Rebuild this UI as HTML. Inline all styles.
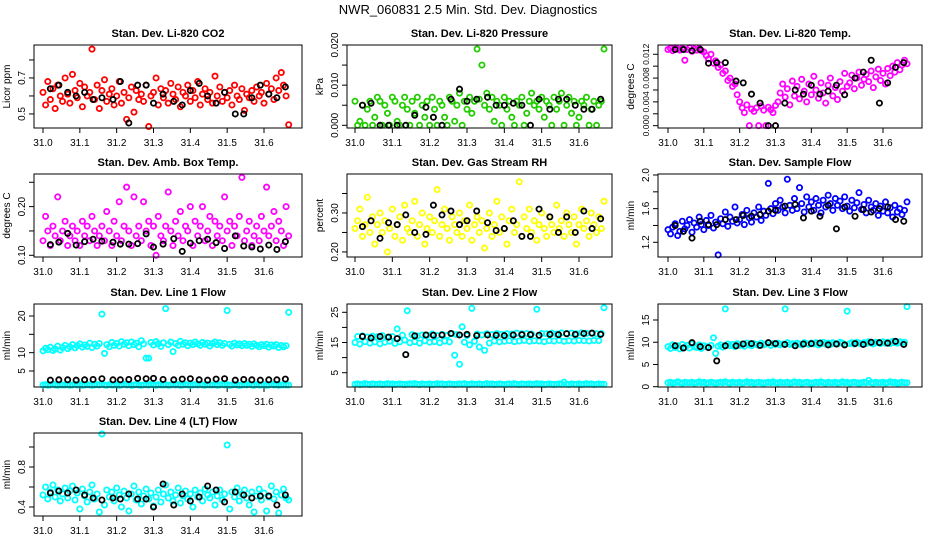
<!DOCTYPE html>
<html><head><meta charset="utf-8"><title>NWR_060831 Diagnostics</title>
<style>
html,body{margin:0;padding:0;background:#fff;}
svg{display:block;font-family:"Liberation Sans",sans-serif;}
</style></head>
<body>
<svg id="chart" width="936" height="540" viewBox="0 0 936 540">
<text x="468" y="14" text-anchor="middle" font-size="13">NWR_060831  2.5 Min. Std. Dev. Diagnostics</text>
</svg>
<script>
// shared time axis (day of month) for colored series
const times = [31.000,31.007,31.013,31.020,31.027,31.033,31.040,31.047,31.053,31.060,31.067,31.073,31.080,31.087,31.093,31.100,31.107,31.113,31.120,31.127,31.133,31.140,31.147,31.153,31.160,31.167,31.173,31.180,31.187,31.193,31.200,31.207,31.213,31.220,31.227,31.233,31.240,31.247,31.253,31.260,31.267,31.273,31.280,31.287,31.293,31.300,31.307,31.313,31.320,31.327,31.333,31.340,31.347,31.353,31.360,31.367,31.373,31.380,31.387,31.393,31.400,31.407,31.413,31.420,31.427,31.433,31.440,31.447,31.453,31.460,31.467,31.473,31.480,31.487,31.493,31.500,31.507,31.513,31.520,31.527,31.533,31.540,31.547,31.553,31.560,31.567,31.573,31.580,31.587,31.593,31.600,31.607,31.613,31.620,31.627,31.633,31.640,31.647,31.653,31.660,31.667];
const blackTimes = [31.02,31.043,31.067,31.09,31.113,31.136,31.16,31.19,31.21,31.233,31.257,31.28,31.30,31.326,31.355,31.378,31.40,31.424,31.447,31.47,31.493,31.522,31.545,31.567,31.59,31.613,31.635,31.658];
const xTicks = [31.0,31.1,31.2,31.3,31.4,31.5,31.6];
const xTickLabels = ["31.0","31.1","31.2","31.3","31.4","31.5","31.6"];

const co2 = [0.62,0.55,0.68,0.58,0.64,0.53,0.66,0.60,0.57,0.70,0.61,0.56,0.72,0.63,0.59,0.67,0.54,0.65,0.60,0.62,0.86,0.58,0.66,0.53,0.63,0.69,0.57,0.61,0.64,0.55,0.60,0.68,0.56,0.62,0.47,0.59,0.65,0.51,0.63,0.58,0.61,0.57,0.66,0.43,0.60,0.62,0.70,0.55,0.64,0.59,0.63,0.56,0.67,0.61,0.58,0.65,0.54,0.62,0.60,0.66,0.57,0.63,0.59,0.68,0.55,0.61,0.64,0.58,0.62,0.56,0.71,0.60,0.65,0.57,0.62,0.59,0.63,0.55,0.66,0.60,0.58,0.64,0.52,0.61,0.59,0.63,0.57,0.65,0.60,0.62,0.56,0.67,0.61,0.64,0.58,0.70,0.63,0.73,0.66,0.60,0.44];
const co2Black = [0.64,0.66,0.62,0.60,0.62,0.58,0.59,0.58,0.68,0.45,0.66,0.66,0.56,0.61,0.57,0.55,0.63,0.67,0.60,0.56,0.62,0.50,0.50,0.59,0.66,0.61,0.59,0.65];

const press = [0.006,0.0,0.001,0.005,0.0,0.004,0.006,0.0,0.002,0.007,0.006,0.0,0.005,0.003,0.0,0.007,0.006,0.001,0.0,0.005,0.007,0.004,0.0,0.006,0.003,0.007,0.0,0.005,0.002,0.006,0.0,0.007,0.004,0.0,0.006,0.005,0.002,0.0,0.007,0.006,0.001,0.005,0.008,0.0,0.006,0.004,0.007,0.003,0.006,0.019,0.0065,0.015,0.005,0.008,0.004,0.007,0.001,0.006,0.005,0.0,0.007,0.004,0.006,0.002,0.0,0.006,0.005,0.007,0.0,0.003,0.006,0.008,0.005,0.006,0.004,0.007,0.002,0.006,0.005,0.0,0.007,0.004,0.006,0.008,0.0,0.005,0.007,0.003,0.006,0.0,0.002,0.006,0.005,0.007,0.0,0.004,0.006,0.0,0.005,0.006,0.019];
const pressBlack = [0.005,0.0055,0.0,0.0,0.0,0.0,0.0025,0.0045,0.002,0.0,0.0065,0.009,0.006,0.0065,0.007,0.005,0.005,0.0055,0.005,0.0,0.0065,0.004,0.0065,0.0065,0.005,0.004,0.004,0.0065];

const temp = [0.0128,0.0130,0.0126,0.0131,0.0129,0.0127,0.0130,0.0110,0.0128,0.0131,0.0125,0.0129,0.0127,0.0130,0.0126,0.0124,0.0118,0.0112,0.0120,0.0105,0.0109,0.0098,0.0102,0.0088,0.0092,0.0076,0.0080,0.0066,0.0070,0.0052,0.0040,0.0030,0.0022,0.0035,0.0,0.0028,0.0024,0.0030,0.0,0.0033,0.0026,0.0,0.0031,0.0027,0.0022,0.0034,0.0040,0.0055,0.0070,0.0048,0.0062,0.0035,0.0075,0.0050,0.0066,0.0045,0.0078,0.0058,0.0040,0.0070,0.0052,0.0083,0.0060,0.0046,0.0072,0.0055,0.0038,0.0068,0.0080,0.0050,0.0064,0.0044,0.0074,0.0058,0.0088,0.0066,0.0072,0.0085,0.0062,0.0080,0.0090,0.0068,0.0078,0.0086,0.0074,0.0092,0.0064,0.0082,0.0095,0.0076,0.0088,0.0070,0.0096,0.0084,0.0100,0.0090,0.0106,0.0094,0.0102,0.0110,0.0104];
const tempBlack = [0.0128,0.0128,0.0126,0.0128,0.0105,0.0106,0.0106,0.0075,0.0072,0.0053,0.0038,0.0,0.0,0.0038,0.0060,0.0053,0.0068,0.0053,0.0058,0.0068,0.0052,0.0080,0.0090,0.0110,0.0038,0.0072,0.0098,0.0106];

const amb = [0.13,0.18,0.15,0.12,0.16,0.14,0.22,0.13,0.15,0.17,0.12,0.14,0.16,0.13,0.15,0.12,0.17,0.14,0.16,0.13,0.18,0.15,0.12,0.14,0.16,0.13,0.19,0.15,0.12,0.17,0.14,0.21,0.13,0.16,0.24,0.15,0.12,0.22,0.14,0.16,0.13,0.21,0.15,0.17,0.12,0.16,0.10,0.18,0.14,0.13,0.16,0.23,0.15,0.12,0.17,0.14,0.19,0.13,0.16,0.15,0.20,0.12,0.17,0.14,0.16,0.20,0.13,0.15,0.18,0.12,0.17,0.14,0.16,0.13,0.22,0.15,0.17,0.12,0.16,0.14,0.18,0.26,0.13,0.15,0.17,0.12,0.14,0.16,0.13,0.18,0.15,0.24,0.14,0.16,0.19,0.13,0.17,0.15,0.12,0.20,0.14];
const ambBlack = [0.122,0.127,0.145,0.121,0.128,0.133,0.129,0.127,0.123,0.123,0.124,0.144,0.117,0.123,0.134,0.108,0.125,0.130,0.133,0.126,0.114,0.140,0.119,0.117,0.113,0.121,0.112,0.128];

const rh = [0.26,0.28,0.31,0.24,0.27,0.34,0.25,0.29,0.22,0.27,0.30,0.25,0.28,0.20,0.26,0.31,0.24,0.27,0.29,0.23,0.32,0.26,0.25,0.28,0.33,0.24,0.27,0.30,0.22,0.26,0.29,0.25,0.28,0.36,0.24,0.27,0.31,0.26,0.23,0.29,0.27,0.25,0.30,0.24,0.28,0.26,0.32,0.23,0.27,0.29,0.25,0.28,0.21,0.26,0.30,0.24,0.27,0.33,0.25,0.29,0.26,0.22,0.28,0.31,0.25,0.27,0.38,0.24,0.29,0.26,0.31,0.25,0.28,0.23,0.27,0.30,0.26,0.24,0.29,0.27,0.25,0.32,0.26,0.28,0.24,0.30,0.27,0.25,0.29,0.22,0.27,0.31,0.26,0.28,0.24,0.30,0.27,0.25,0.29,0.26,0.33];
const rhBlack = [0.265,0.28,0.235,0.275,0.27,0.295,0.25,0.245,0.32,0.295,0.305,0.27,0.28,0.305,0.275,0.255,0.26,0.28,0.24,0.24,0.31,0.29,0.25,0.29,0.25,0.305,0.26,0.285];

const flow = [1.35,1.30,1.38,1.42,1.28,1.33,1.45,1.36,1.40,1.47,1.32,1.43,1.38,1.50,1.41,1.35,1.46,1.40,1.52,1.37,1.44,1.05,1.48,1.42,1.56,1.39,1.50,1.45,1.62,1.43,1.47,1.53,1.41,1.58,1.49,1.44,1.55,1.50,1.62,1.46,1.57,1.52,1.90,1.60,1.54,1.66,1.58,1.70,1.62,1.55,1.95,1.64,1.58,1.72,1.60,1.85,1.66,1.56,1.74,1.62,1.68,1.58,1.72,1.64,1.55,1.70,1.62,1.76,1.66,1.58,1.72,1.64,1.69,1.60,1.74,1.63,1.57,1.70,1.61,1.67,1.79,1.59,1.65,1.55,1.70,1.62,1.58,1.66,1.52,1.63,1.57,1.68,1.55,1.61,1.50,1.64,1.56,1.60,1.53,1.58,1.68];
const flowBlack = [1.40,1.33,1.25,1.45,1.41,1.41,1.47,1.47,1.52,1.51,1.53,1.57,1.58,1.63,1.65,1.49,1.57,1.51,1.64,1.36,1.62,1.51,1.59,1.56,1.60,1.62,1.47,1.45];

const line1 = [10.5,11.2,10.8,11.5,10.6,11.0,11.8,10.7,11.4,12.0,11.1,11.6,12.2,11.3,11.9,12.4,11.5,12.1,11.7,12.6,11.4,12.3,11.8,12.5,20.5,9.8,12.2,11.6,12.8,12.0,12.5,11.8,13.0,12.3,12.7,11.9,12.9,12.2,12.6,11.6,13.3,12.4,8.5,8.5,12.8,12.1,13.0,12.4,11.7,12.7,22.0,12.2,12.9,10.3,12.5,12.0,13.1,12.3,12.7,11.9,12.6,12.2,12.9,12.4,12.0,12.8,12.3,12.6,11.8,12.5,12.9,12.2,12.7,12.0,12.5,21.5,12.3,11.8,12.6,12.1,12.4,11.9,12.5,12.0,12.3,11.7,12.4,12.0,11.6,12.2,11.9,12.3,11.5,12.1,11.8,12.2,11.4,12.0,11.6,11.9,21.0];
const line1Low = [1.2,1.3,1.1,1.2,1.4,1.2,1.1,1.3,1.2,1.2,1.3,1.1,1.2,1.4,1.2,1.3,1.1,1.2,1.3,1.2,1.1,1.2,1.3,1.2,1.4,1.2,1.1,1.3,1.2,1.2,1.3,1.1,1.2,1.4,1.2,1.3,1.1,1.2,1.3,1.2,1.1,1.2,1.3,1.2,1.4,1.2,1.1,1.3,1.2,1.2,1.3,1.1,1.2,1.4,1.2,1.3,1.1,1.2,1.3,1.2,1.1,1.2,1.3,1.2,1.4,1.2,1.1,1.3,1.2,1.2,1.3,1.1,1.2,1.4,1.2,1.3,1.1,1.2,1.3,1.2,1.1,1.2,1.3,1.2,1.4,1.2,1.1,1.3,1.2,1.2,1.3,1.1,1.2,1.4,1.2,1.3,1.1,1.2,1.3,1.2,1.2];
const line1Black = [2.5,2.6,2.6,2.5,2.6,2.7,2.9,2.6,2.6,2.7,3.0,2.9,3.0,2.7,2.6,2.8,2.9,2.6,2.5,2.8,2.9,2.5,2.7,2.6,2.5,2.6,2.6,2.8];

const line2 = [15,17,14.5,17.2,15.3,16.8,14.8,17.1,15.2,16.9,14.6,17.3,15.1,16.7,15.4,17,14.7,19.5,15.2,17.4,15.8,25.5,14.9,17.6,15.3,17.2,14.8,17.5,15.6,17.4,15.1,17.8,15.3,17.3,14.9,17.7,15.5,17.4,15.2,17.9,10.8,17.6,7.8,20.2,15.1,17.3,14.2,26.3,15.4,17.8,13.5,17.5,12.4,17.9,14.8,17.6,15.5,18.0,15.2,17.7,15.4,17.9,15.6,17.8,15.3,18.1,15.5,17.9,15.7,18.0,15.4,17.8,15.6,26.0,15.5,18.0,15.3,17.9,15.6,18.1,15.5,17.8,15.7,18.2,15.4,18.0,15.6,18.1,15.5,17.9,15.7,18.2,15.6,18.0,15.5,18.1,15.7,17.9,15.6,18.0,26.5];
const line2Low = [1.2,1.3,1.1,1.2,1.4,1.2,1.1,1.3,1.2,1.2,1.3,1.1,1.2,1.4,1.2,1.3,1.1,1.2,1.3,1.2,1.1,1.2,1.3,1.2,1.4,1.2,1.1,1.3,1.2,1.2,1.3,1.1,1.2,1.4,1.2,1.3,1.1,1.2,1.3,1.2,1.1,1.2,1.3,1.2,1.4,1.2,1.1,1.3,1.2,1.2,1.3,1.1,1.2,1.4,1.2,1.3,1.1,1.2,1.3,1.2,1.1,1.2,1.3,1.2,1.4,1.2,1.1,1.3,1.2,1.2,1.3,1.1,1.2,1.4,1.2,1.3,1.1,1.2,1.3,1.2,1.1,1.2,1.3,1.2,1.9,1.2,1.1,1.3,1.2,1.2,1.3,1.1,1.2,1.4,1.2,1.3,1.1,1.2,1.3,1.2,1.2];
const line2Black = [17,16.5,17,16.8,16.3,11,17.2,17.5,17.4,17.5,18,17.5,17.7,17.3,17.5,17.4,17.3,17.5,17.6,17.6,17.4,17.7,17.6,17.9,17.7,18,18.1,17.7];

const line3 = [9.0,8.6,9.4,8.8,9.2,8.5,9.5,8.9,9.3,8.7,9.6,9.0,8.8,9.4,8.6,9.2,9.0,8.8,9.3,11.0,7.5,9.1,9.4,8.9,17.5,9.6,9.2,9.5,9.0,9.7,9.3,9.6,9.1,9.8,9.4,9.2,9.7,9.5,9.3,9.8,9.4,9.6,9.9,9.3,9.7,9.5,9.8,9.4,9.6,17.5,9.9,9.5,9.7,9.3,9.8,9.6,9.4,9.9,9.7,9.5,9.8,9.6,9.9,9.4,9.7,10.0,9.6,9.8,9.5,9.9,9.7,9.6,10.0,9.8,9.5,17.0,9.7,9.9,9.6,10.0,9.8,9.6,9.9,9.7,10.1,9.8,9.6,10.0,9.9,9.7,10.1,9.8,10.0,9.7,10.2,9.9,9.8,10.1,9.9,10.0,18.0];
const line3Low = [0.9,1.0,0.8,0.9,1.1,0.9,0.8,1.0,0.9,0.9,1.0,0.8,0.9,1.1,0.9,1.0,0.8,0.9,1.0,0.9,0.8,0.9,1.0,0.9,1.1,0.9,0.8,1.0,0.9,0.9,1.0,0.8,0.9,1.1,0.9,1.0,0.8,0.9,1.0,0.9,0.8,0.9,1.0,0.9,1.1,0.9,0.8,1.0,0.9,0.9,1.0,0.8,0.9,1.1,0.9,1.0,0.8,0.9,1.0,0.9,0.8,0.9,1.0,0.9,1.1,0.9,0.8,1.0,0.9,0.9,1.0,0.8,0.9,1.1,0.9,1.0,0.8,0.9,1.0,0.9,0.8,0.9,1.0,0.9,1.4,0.9,0.8,1.0,0.9,0.9,1.0,0.8,0.9,1.1,0.9,1.0,0.8,0.9,1.0,0.9,0.9];
const line3Black = [9.2,8.7,9.9,9.0,8.8,5.8,9.2,9.2,9.6,9.7,9.3,9.9,9.7,9.5,9.2,9.6,9.7,9.8,9.4,9.6,9.4,9.7,9.5,10.0,9.9,9.8,10.2,9.5];

const line4 = [0.52,0.60,0.48,0.55,0.62,0.50,0.57,0.46,0.53,0.59,0.49,0.56,0.61,0.47,0.54,0.38,0.58,0.51,0.45,0.55,0.62,0.48,0.53,0.35,1.13,0.42,0.57,0.50,0.55,0.46,0.59,0.52,0.40,0.56,0.49,0.36,0.53,0.61,0.47,0.55,0.43,0.51,0.58,0.48,0.54,0.41,0.50,0.57,0.45,0.53,0.62,0.49,0.55,0.46,0.52,0.59,0.44,0.51,0.56,0.48,0.53,0.40,0.57,0.50,0.54,0.46,0.58,0.52,0.49,0.55,0.42,0.51,0.57,0.47,0.53,1.02,0.38,0.55,0.50,0.59,0.46,0.53,0.57,0.49,0.42,0.55,0.35,0.51,0.58,0.47,0.54,0.36,0.50,0.61,0.48,0.55,0.34,0.52,0.58,0.49,0.47];
const line4Black = [0.54,0.56,0.54,0.57,0.52,0.49,0.47,0.49,0.48,0.53,0.48,0.48,0.40,0.63,0.42,0.53,0.46,0.50,0.61,0.57,0.45,0.55,0.52,0.49,0.51,0.51,0.42,0.52];

const NS = "http://www.w3.org/2000/svg";
const svg = document.getElementById('chart');
function mk(tag, attrs, parent){
  const e = document.createElementNS(NS, tag);
  for (const k in attrs) e.setAttribute(k, attrs[k]);
  (parent || svg).appendChild(e);
  return e;
}
const cols = [{l:34,r:302,x0:43,x1:264},{l:347,r:612,x0:355,x1:579},{l:658,r:922,x0:668,x1:883}];
const rowTops = [45,174,304,433];
const H = 83;

const panels = [
 {name:'co2',col:0,row:0,title:'Stan. Dev. Li-820 CO2',ylab:'Licor ppm',ymin:0.422,ymax:0.883,ticks:[0.5,0.6,0.7,0.8],labels:['0.5','','0.7',''],color:'#ff0000',series:[co2],black:co2Black},
 {name:'pressure',col:1,row:0,title:'Stan. Dev. Li-820 Pressure',ylab:'kPa',ymin:-0.00067,ymax:0.0200,ticks:[0,0.005,0.010,0.015,0.020],labels:['0.000','','0.010','','0.020'],color:'#22cc00',series:[press],black:pressBlack},
 {name:'temp',col:2,row:0,title:'Stan. Dev. Li-820 Temp.',ylab:'degrees C',ymin:-0.00039,ymax:0.01356,ticks:[0,0.002,0.004,0.006,0.008,0.010,0.012],labels:['0.000','','0.004','','0.008','','0.012'],labelSize:8.5,color:'#ff00ff',series:[temp],black:tempBlack},
 {name:'amb-box-temp',col:0,row:1,title:'Stan. Dev. Amb. Box Temp.',ylab:'degrees C',ymin:0.0965,ymax:0.267,ticks:[0.10,0.15,0.20,0.25],labels:['0.10','','0.20',''],color:'#ff00ff',series:[amb],black:ambBlack},
 {name:'gas-rh',col:1,row:1,title:'Stan. Dev. Gas Stream RH',ylab:'percent',ymin:0.187,ymax:0.40,ticks:[0.20,0.25,0.30,0.35],labels:['0.20','','0.30',''],color:'#ffff00',series:[rh],black:rhBlack},
 {name:'sample-flow',col:2,row:1,title:'Stan. Dev. Sample Flow',ylab:'ml/min',ymin:1.025,ymax:2.012,ticks:[1.2,1.4,1.6,1.8,2.0],labels:['1.2','','1.6','','2.0'],color:'#0000ff',series:[flow],black:flowBlack},
 {name:'line1-flow',col:0,row:2,title:'Stan. Dev. Line 1 Flow',ylab:'ml/min',ymin:0.64,ymax:23.27,ticks:[5,10,15,20],labels:['5','10','','20'],color:'#00ffff',series:[line1,line1Low],black:line1Black},
 {name:'line2-flow',col:1,row:2,title:'Stan. Dev. Line 2 Flow',ylab:'ml/min',ymin:0.27,ymax:27.75,ticks:[5,10,15,20,25],labels:['5','','15','','25'],color:'#00ffff',series:[line2,line2Low],black:line2Black},
 {name:'line3-flow',col:2,row:2,title:'Stan. Dev. Line 3 Flow',ylab:'ml/min',ymin:-0.07,ymax:18.6,ticks:[0,5,10,15],labels:['0','5','10','15'],color:'#00ffff',series:[line3,line3Low],black:line3Black},
 {name:'line4-flow',col:0,row:3,title:'Stan. Dev. Line 4 (LT) Flow',ylab:'ml/min',ymin:0.31,ymax:1.14,ticks:[0.4,0.6,0.8,1.0],labels:['0.4','','0.8',''],color:'#00ffff',series:[line4],black:line4Black}
];

panels.forEach(p => {
  const c = cols[p.col], top = rowTops[p.row], bot = top + H;
  const xs = v => c.x0 + (v - 31.0) / 0.6 * (c.x1 - c.x0);
  const ys = v => bot - (v - p.ymin) / (p.ymax - p.ymin) * H;
  const g = mk('g', {});
  
  
  const t = mk('text', {x:(c.l+c.r)/2, y:top-8, 'text-anchor':'middle', 'font-size':'11', 'font-weight':'bold'}, g);
  t.textContent = p.title;
  
  
  const yl = mk('text', {x:0, y:0, 'text-anchor':'middle', 'font-size':'10', transform:`translate(${c.l-24},${top+H/2}) rotate(-90)`}, g);
  yl.textContent = p.ylab;
  
  
  p.ticks.forEach((tv, i) => {
    const y = ys(tv);
    const tk = mk('line', {x1:c.l-5, x2:c.l, y1:y, y2:y, stroke:'#000', 'stroke-width':1}, g);
    
    
    if (p.labels[i]) {
      const lb = mk('text', {x:0, y:0, 'text-anchor':'middle', 'font-size':String(p.labelSize || 10), transform:`translate(${c.l-9},${y}) rotate(-90)`}, g);
      lb.textContent = p.labels[i];
      
      
    }
  });
  xTicks.forEach((tv, i) => {
    const x = xs(tv);
    const tk = mk('line', {x1:x, x2:x, y1:bot, y2:bot+5, stroke:'#000', 'stroke-width':1}, g);
    
    
    const lb = mk('text', {x:x, y:bot+18, 'text-anchor':'middle', 'font-size':'10'}, g);
    lb.textContent = xTickLabels[i];
    
    
  });
  const pts = mk('g', {fill:'none', 'stroke-width':1.8}, g);
  
  
  p.series.forEach(vals => {
    vals.forEach((v, i) => {
      if (i >= times.length) return;
      const cc = mk('circle', {cx:xs(times[i]), cy:ys(v), r:2.6, stroke:p.color}, pts);
      
      
    });
  });
  p.black.forEach((v, i) => {
    if (i >= blackTimes.length) return;
    const cc = mk('circle', {cx:xs(blackTimes[i]), cy:ys(v), r:2.6, stroke:'#000'}, pts);
    
    
  });
  const box = mk('rect', {x:c.l, y:top, width:c.r-c.l, height:H, fill:'none', stroke:'#000', 'stroke-width':1}, g);
  
  
});
</script>
</body></html>
